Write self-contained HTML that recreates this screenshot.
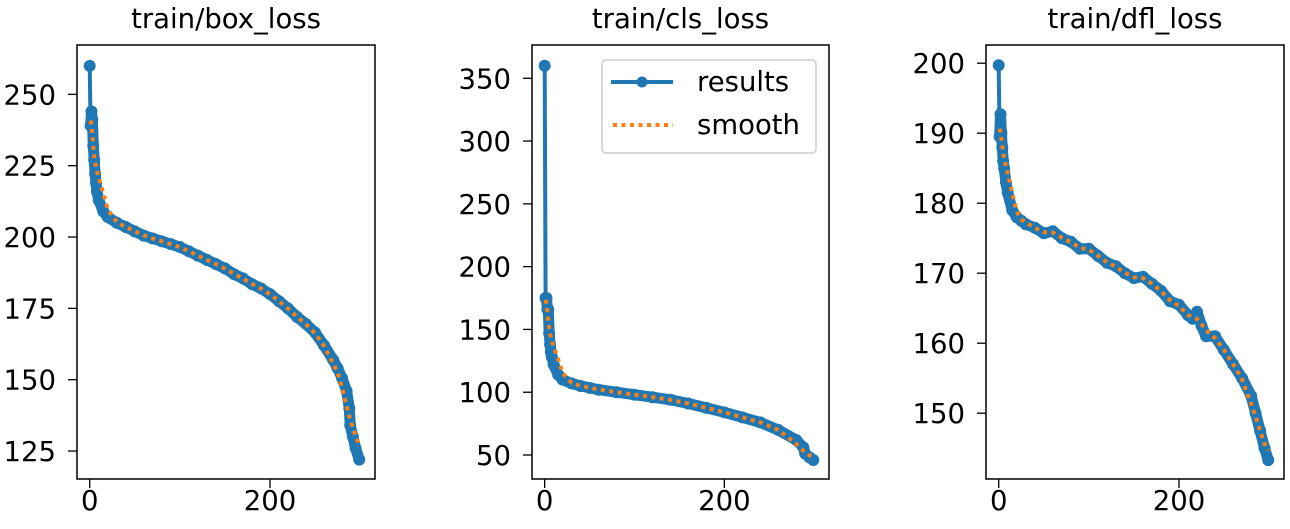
<!DOCTYPE html>
<html><head><meta charset="utf-8"><style>
body{margin:0;background:#fff;width:1290px;height:529px;overflow:hidden}
svg{display:block;font-family:"DejaVu Sans","Liberation Sans",sans-serif}
</style></head><body>
<svg id="c" width="1290" height="529"></svg>
<script>
const boxEpochs=[0,1,2,3,4,5,6,7,8,10,15,20,30,40,50,60,70,80,90,100,110,120,130,140,150,160,170,180,190,200,210,220,230,240,250,260,270,275,280,285,288,289,292,295,299];
const boxValues=[260,239,244,241,232,227,222,219,216,213,209,207,205,203.5,202,200.5,199.5,198.5,197.5,196.5,195,193.5,192,190.5,189,187,185.5,183.5,182,180,177.5,175,172,169.5,166.5,162,157,154,150.5,146,140,134,130,126,122];
const clsEpochs=[0,1,2,3,4,5,6,7,8,10,15,20,30,40,50,60,80,100,120,140,160,180,200,220,240,260,280,288,290,295,299];
const clsValues=[360,175,175,166,166,147,138,132,128,122,114,110,107,105,103.5,102,100,98,96,94,91,87.5,84,80,76,70,62,56,51,48,46];
const dflEpochs=[0,1,2,3,4,5,6,8,10,15,20,25,30,40,50,60,70,80,90,100,110,120,130,140,150,160,170,180,190,200,210,215,220,225,230,240,250,260,270,280,285,290,295,299];
const dflValues=[199.7,189.5,192.7,190,188,186,185,183,181.5,179,178,177.5,177,176.5,175.7,176,175,174.5,173.5,173.5,172.5,171.5,171,170,169.3,169.5,168.5,167.5,166,165.5,164,163.5,164.5,162.5,161,161,159,157,155,152.5,150,147.5,145,143.3];
const boxTicks=[125,150,175,200,225,250];
const clsTicks=[50,100,150,200,250,300,350];
const dflTicks=[150,160,170,180,190,200];
const xTicks=[0,200];
const titles=["train/box_loss","train/cls_loss","train/dfl_loss"];

const NS="http://www.w3.org/2000/svg";
const svg=document.getElementById('c');
function mk(tag,attrs,parent){const e=document.createElementNS(NS,tag);for(const k in attrs)e.setAttribute(k,attrs[k]);(parent||svg).appendChild(e);return e;}
function smooth(xs,ys){return xs.map((x,i)=>{const sg=Math.min(8,1.2+x*0.5);let s=0,w=0;xs.forEach((x2,j)=>{if(j===0)return;const d=(x2-x)/sg;const ww=Math.exp(-d*d);s+=ys[j]*ww;w+=ww;});return s/w;});}

const panels=[
 {l:77,r:375,ymin:115.2,ymax:267.3,ex:boxEpochs,vals:boxValues,ticks:boxTicks,name:'box-loss'},
 {l:532,r:829,ymin:30.9,ymax:376.5,ex:clsEpochs,vals:clsValues,ticks:clsTicks,name:'cls-loss'},
 {l:986,r:1284,ymin:140.6,ymax:202.6,ex:dflEpochs,vals:dflValues,ticks:dflTicks,name:'dfl-loss'}];
const T=45,B=479,XMIN=-14.1,XMAX=316.5;
panels.forEach((p,pi)=>{
 const g=mk('g',{});
 
 
 const X=v=>p.l+(v-XMIN)/(XMAX-XMIN)*(p.r-p.l);
 const Y=v=>B-(v-p.ymin)/(p.ymax-p.ymin)*(B-T);
 const t=mk('text',{x:(p.l+p.r)/2,y:28,'text-anchor':'middle','font-size':27.5,fill:'#000'},g);t.textContent=titles[pi];
 
 
 p.ticks.forEach(v=>{const y=Y(v);mk('line',{x1:p.l-9,x2:p.l,y1:y,y2:y,stroke:'#000','stroke-width':1.3},g);
  const tx=mk('text',{x:p.l-21,y:y+10,'text-anchor':'end','font-size':27.5},g);tx.textContent=v;
  
  });
 xTicks.forEach(v=>{const x=X(v);mk('line',{x1:x,x2:x,y1:B,y2:B+9,stroke:'#000','stroke-width':1.3},g);
  const tx=mk('text',{x:x,y:B+31,'text-anchor':'middle','font-size':27.5},g);tx.textContent=v;
  
  });
 const P=(e,v)=>X(e).toFixed(1)+','+Y(v).toFixed(1);
 const ln=mk('polyline',{points:p.ex.map((e,i)=>P(e,p.vals[i])).join(' '),fill:'none',stroke:'#1f77b4','stroke-width':4,'stroke-linejoin':'round'},g);
 
 
 const band=mk('polyline',{points:p.ex.slice(1).map((e,i)=>P(e,p.vals[i+1])).join(' '),fill:'none',stroke:'#1f77b4','stroke-width':11,'stroke-linejoin':'round','stroke-linecap':'round'},g);
 
 
 p.ex.forEach((e,i)=>{const c=mk('circle',{cx:X(e),cy:Y(p.vals[i]),r:6,fill:'#1f77b4'},g);
  
  });
 const sm=smooth(p.ex,p.vals);
 const sp=mk('polyline',{points:p.ex.slice(1).map((e,i)=>P(e,sm[i+1])).join(' '),fill:'none',stroke:'#ff7f0e','stroke-width':4,'stroke-dasharray':'4 4.5'},g);
 
 
 const fr=mk('rect',{x:p.l,y:T,width:p.r-p.l,height:B-T,fill:'none',stroke:'#000','stroke-width':1.5},g);
 
 
});
const lg=mk('g',{});


mk('rect',{x:602,y:60,width:214,height:93,rx:4,fill:'#fff','fill-opacity':0.8,stroke:'#ccc','stroke-width':1.5},lg);
mk('line',{x1:611,x2:673,y1:82,y2:82,stroke:'#1f77b4','stroke-width':4},lg);
mk('circle',{cx:642,cy:82,r:5.5,fill:'#1f77b4'},lg);
mk('line',{x1:613,x2:673,y1:125,y2:125,stroke:'#ff7f0e','stroke-width':4,'stroke-dasharray':'4 4.5'},lg);
const l1=mk('text',{x:697,y:91,'font-size':27.5},lg);l1.textContent='results';


const l2=mk('text',{x:697,y:134,'font-size':27.5},lg);l2.textContent='smooth';


</script>
</body></html>
